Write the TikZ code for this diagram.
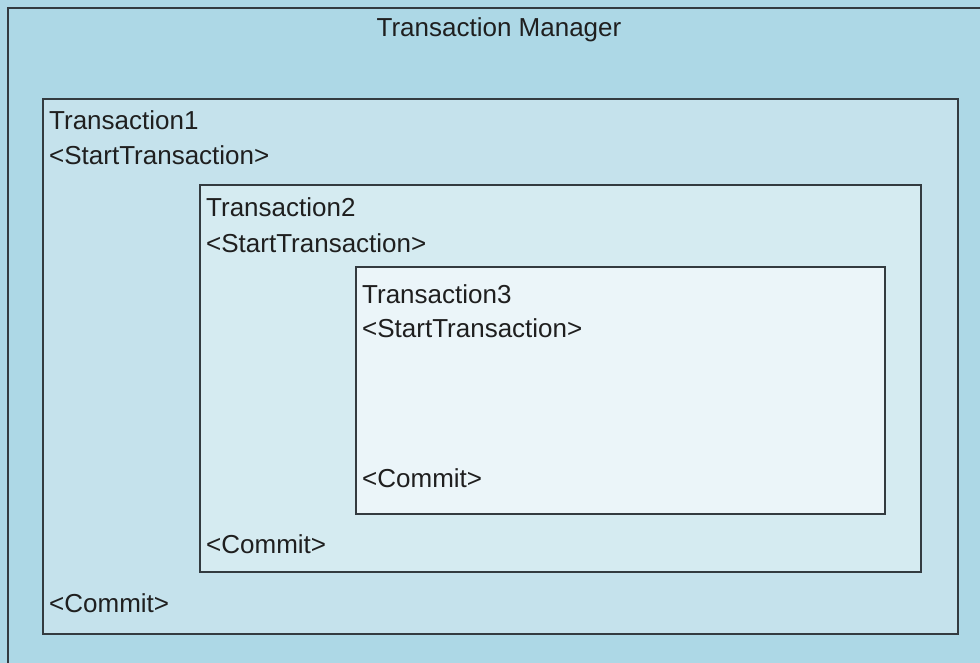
\documentclass[tikz,border=0pt]{standalone}
\usepackage{fontspec}
\setmainfont{Liberation Sans}
\definecolor{mgrbg}{HTML}{ADD8E6}
\definecolor{tonebg}{HTML}{C5E2EC}
\definecolor{ttwobg}{HTML}{D5EBF1}
\definecolor{tthreebg}{HTML}{EBF5F9}
\definecolor{edgec}{HTML}{333B40}
\begin{document}
\begin{tikzpicture}[x=1pt,y=-1pt,
  box/.style={draw=edgec,line width=1.8pt},
  txt/.style={inner sep=0pt,font=\fontsize{26}{30}\selectfont,text=black!88},
  lbl/.style={txt,anchor=base west}]
\useasboundingbox (0,0) rectangle (980,663);
\fill[mgrbg] (0,0) rectangle (980,663);
\draw[box,fill=mgrbg] (8,1090) -- (8,8) -- (1100,8);
\node[txt,anchor=base] (mgr) at (499,37) {Transaction Manager};
\draw[box,fill=tonebg] (43,99) rectangle (958,634);
\draw[box,fill=ttwobg] (200,185) rectangle (921,572);
\draw[box,fill=tthreebg] (356,267) rectangle (885,514);
\node[lbl] (n1) at (49,130) {Transaction1};
\node[lbl] (s1) at (49,165) {<StartTransaction>};
\node[lbl] (c1) at (49,612) {<Commit>};
\node[lbl] (n2) at (206,217) {Transaction2};
\node[lbl] (s2) at (206,253) {<StartTransaction>};
\node[lbl] (c2) at (206,553) {<Commit>};
\node[lbl] (n3) at (362,303) {Transaction3};
\node[lbl] (s3) at (362,337) {<StartTransaction>};
\node[lbl] (c3) at (362,487) {<Commit>};
\end{tikzpicture}
\end{document}
